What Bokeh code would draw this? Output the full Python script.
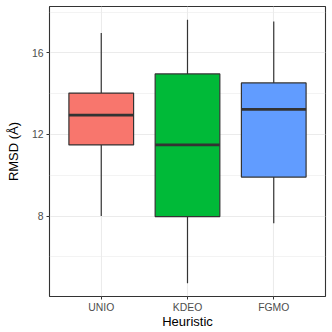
from bokeh.plotting import figure
from bokeh.models import ColumnDataSource, FixedTicker, Range1d
from bokeh.embed import file_html
from bokeh.resources import INLINE

categories = ["UNIO", "KDEO", "FGMO"]
lower = [8.0, 4.70, 7.64]
q1 = [11.49, 7.97, 9.91]
median = [12.95, 11.49, 13.23]
q3 = [14.03, 14.97, 14.53]
upper = [16.98, 17.63, 17.55]
colors = ["#F8766D", "#00BA38", "#619CFF"]
y_major = [8, 12, 16]
y_minor = [6, 10, 14, 18]

xs = list(range(1, len(categories) + 1))
src = ColumnDataSource(dict(x=xs, lower=lower, q1=q1, median=median, q3=q3,
                            upper=upper, color=colors,
                            left=[x - 0.375 for x in xs], right=[x + 0.375 for x in xs]))

p = figure(width=332, height=332, output_backend="svg", toolbar_location=None,
           x_range=Range1d(0.4, 3.6), y_range=Range1d(4.05, 18.28),
           min_border_left=49, min_border_right=7, min_border_top=6, min_border_bottom=36)

p.background_fill_color = "white"
p.border_fill_color = "white"
p.outline_line_color = "#333333"
p.outline_line_width = 1.1

# grid
p.xaxis.ticker = FixedTicker(ticks=xs)
p.yaxis.ticker = FixedTicker(ticks=y_major, minor_ticks=y_minor)
p.xgrid.ticker = FixedTicker(ticks=xs)
p.ygrid.ticker = FixedTicker(ticks=y_major, minor_ticks=y_minor)
p.grid.grid_line_color = "#EBEBEB"
p.grid.grid_line_width = 1.1
p.ygrid.minor_grid_line_color = "#EBEBEB"
p.ygrid.minor_grid_line_width = 0.6

# whiskers
p.segment(x0="x", y0="q3", x1="x", y1="upper", source=src, line_color="#333333", line_width=1.2)
p.segment(x0="x", y0="q1", x1="x", y1="lower", source=src, line_color="#333333", line_width=1.2)
# boxes
p.quad(left="left", right="right", bottom="q1", top="q3", source=src,
       fill_color="color", line_color="#333333", line_width=1.2)
# medians
p.segment(x0="left", y0="median", x1="right", y1="median", source=src,
          line_color="#333333", line_width=2.6)

# axes
p.xaxis.major_label_overrides = {x: c for x, c in zip(xs, categories)}
for ax in (p.xaxis[0], p.yaxis[0]):
    ax.axis_line_color = None
    ax.major_tick_line_color = "#333333"
    ax.major_tick_in = 0
    ax.major_tick_out = 3
    ax.minor_tick_line_color = None
    ax.major_label_text_font = "Liberation Sans"
    ax.major_label_text_font_size = "10.4px"
    ax.major_label_text_color = "#4D4D4D"
    ax.major_label_text_line_height = 1.0
    ax.axis_label_text_font = "Liberation Sans"
    ax.axis_label_text_font_size = "13px"
    ax.axis_label_text_font_style = "normal"
    ax.axis_label_text_color = "black"
    ax.axis_label_text_line_height = 1.0

p.xaxis.axis_label = "Heuristic"
p.yaxis.axis_label = "RMSD (Å)"
p.xaxis.major_label_standoff = 2
p.xaxis.axis_label_standoff = -2
p.yaxis.major_label_standoff = 2
p.yaxis.axis_label_standoff = 8

open("out.html", "w").write(file_html(p, INLINE))
